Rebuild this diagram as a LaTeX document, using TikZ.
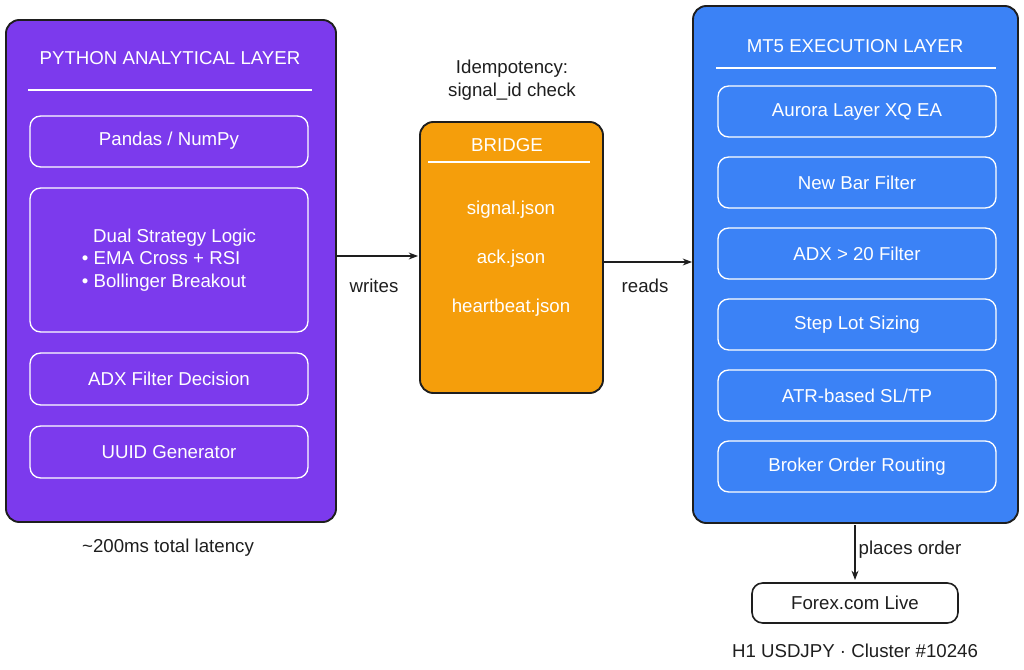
\documentclass[tikz,border=0pt]{standalone}
\usepackage{fontspec}
\setmainfont{Liberation Sans}
\usetikzlibrary{arrows.meta}
\definecolor{purp}{HTML}{7C3AED}
\definecolor{oran}{HTML}{F59E0B}
\definecolor{blu}{HTML}{3B82F6}
\definecolor{ink}{HTML}{1E1E1E}
\begin{document}
\begin{tikzpicture}[x=0.75pt,y=-0.75pt,
  big/.style={draw=ink,line width=1.4pt,rounded corners=10pt},
  inner/.style={draw=white,line width=1pt,rounded corners=8pt},
  wt/.style={text=white,font=\fontsize{14}{17}\selectfont,align=center},
  bt/.style={text=ink,font=\fontsize{14}{17}\selectfont,align=center},
  arr/.style={draw=ink,line width=0.9pt,-{Stealth[length=7pt]}}]
\useasboundingbox (0,0) rectangle (1024,670);
% purple
\draw[big,fill=purp] (6,20) rectangle (336,522);
\node[wt] (pt) at (170,58) {PYTHON ANALYTICAL LAYER};
\draw[white,line width=1pt] (28,90) -- (312,90);
\draw[inner] (30,116) rectangle (308,167);
\node[wt] (p1) at (169,141) {Pandas / NumPy};
\draw[inner] (30,188) rectangle (308,332);
\node[wt,align=left] (p2) at (169,260) {\hspace*{0.6em}Dual Strategy Logic\\• EMA Cross + RSI\\• Bollinger Breakout};
\draw[inner] (30,353) rectangle (308,405);
\node[wt] (p3) at (169,379) {ADX Filter Decision};
\draw[inner] (30,426) rectangle (308,478);
\node[wt] (p4) at (169,452) {UUID Generator};
\node[bt] (lat) at (168,548) {\textasciitilde200ms total latency};
% bridge
\draw[big,fill=oran] (420,122) rectangle (603,393);
\node[wt] (bt) at (507,145) {BRIDGE};
\draw[white,line width=1pt] (428,162) -- (590,162);
\node[wt] (b1) at (511,210) {signal.json};
\node[wt] (b2) at (511,259) {ack.json};
\node[wt] (b3) at (511,308) {heartbeat.json};
\node[bt] (idem) at (512,80) {Idempotency:\\signal\_id check};
% blue
\draw[big,fill=blu] (693,6) rectangle (1018,523);
\node[wt] (mt) at (855,46) {MT5 EXECUTION LAYER};
\draw[white,line width=1pt] (716,68) -- (996,68);
\foreach \y/\t/\n in {86/{Aurora Layer XQ EA}/m1,157/{New Bar Filter}/m2,228/{ADX > 20 Filter}/m3,299/{Step Lot Sizing}/m4,370/{ATR-based SL\slash TP}/m5,441/{Broker Order Routing}/m6}{
  \draw[inner] (718,\y) rectangle (996,\y+51);
  \node[wt] (\n) at (857,\y+25.5) {\t};
}
% arrows
\coordinate (a1) at (336,256); \coordinate (a2) at (418,256);
\draw[arr] (a1) -- (a2);
\node[bt] (wr) at (374,286) {writes};
\coordinate (c1) at (603,262); \coordinate (c2) at (692,262);
\draw[arr] (c1) -- (c2);
\node[bt] (rd) at (645,286) {reads};
% forex
\draw[draw=ink,line width=1.2pt,fill=white,rounded corners=8pt] (752,583) rectangle (958,623);
\node[bt] (fx) at (855,603) {Forex.com Live};
\coordinate (d1) at (855,525);
\draw[arr] (d1) -- (855,580);
\node[bt] (po) at (910,550) {places order};
\node[bt] (cl) at (855,651) {H1 USDJPY · Cluster \#10246};
\end{tikzpicture}
\end{document}
